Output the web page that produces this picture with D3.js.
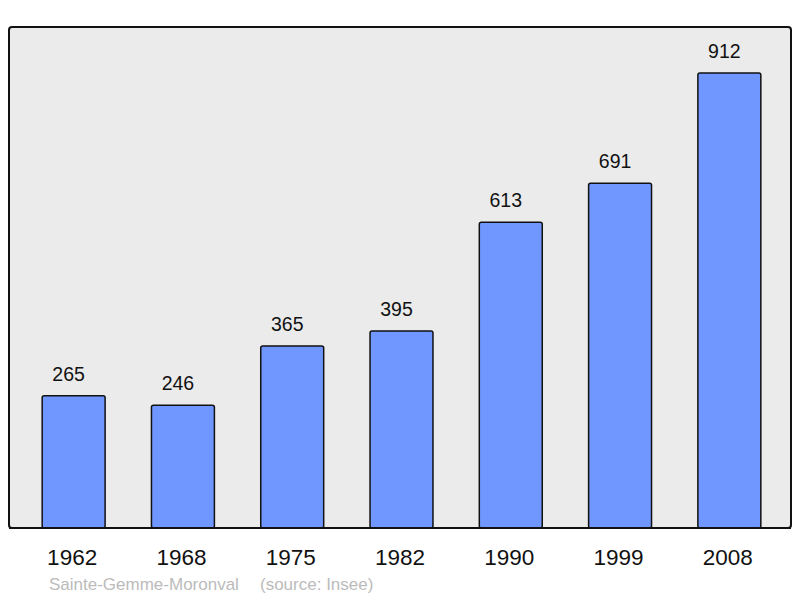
<!DOCTYPE html>
<html><head><meta charset="utf-8">
<script src="https://cdn.jsdelivr.net/npm/d3@7"></script>
<style>body{margin:0;background:#fff}svg{display:block}</style>
</head><body>
<script>
const years = ["1962","1968","1975","1982","1990","1999","2008"];
const population = [265,246,365,395,613,691,912];
const town = "Sainte-Gemme-Moronval";
const source = "(source: Insee)";

const W = 800, H = 598;
const svg = d3.select("body").append("svg").attr("width", W).attr("height", H);
const font = "Liberation Sans, Arial, sans-serif";

svg.append("rect").attr("x", 9).attr("y", 27).attr("width", 782).attr("height", 501)
  .attr("rx", 3).attr("fill", "#ebebeb").attr("stroke", "#111").attr("stroke-width", 2);

const x = d3.scaleBand().domain(years).range([19, 784]).paddingInner(0.424).paddingOuter(0.212);
const y = d3.scaleLinear().domain([0, 912]).range([528, 73]);

const data = years.map((yr, i) => ({yr, v: population[i]}));

svg.selectAll("rect.bar").data(data).join("rect").attr("class", "bar")
  .attr("x", d => x(d.yr)).attr("y", d => y(d.v))
  .attr("width", x.bandwidth()).attr("height", d => y(0) - y(d.v))
  .attr("rx", 2)
  .attr("fill", "#7096ff").attr("stroke", "#111").attr("stroke-width", 1.5);

svg.append("line").attr("x1", 9).attr("x2", 791).attr("y1", 528).attr("y2", 528)
  .attr("stroke", "#111").attr("stroke-width", 2);

svg.selectAll("text.val").data(data).join("text").attr("class", "val")
  .attr("x", d => x(d.yr) + x.bandwidth() / 2 - 5).attr("y", d => y(d.v) - 15)
  .attr("text-anchor", "middle").attr("font-family", font).attr("font-size", 19.5)
  .attr("fill", "#111").text(d => d.v);

const xAxis = d3.axisBottom(x).tickSize(0).tickPadding(0);
const gx = svg.append("g").attr("transform", "translate(-1.5,548)").call(xAxis);
gx.select(".domain").remove();
gx.selectAll("text").attr("font-family", font).attr("font-size", 22.5).attr("fill", "#111")
  .attr("dy", "0.75em");

svg.append("text").attr("x", 49).attr("y", 590).attr("font-family", font)
  .attr("font-size", 17).attr("fill", "#bbbbbb").text(town);
svg.append("text").attr("x", 260).attr("y", 590).attr("font-family", font)
  .attr("font-size", 17).attr("fill", "#bbbbbb").text(source);
</script>
</body></html>
